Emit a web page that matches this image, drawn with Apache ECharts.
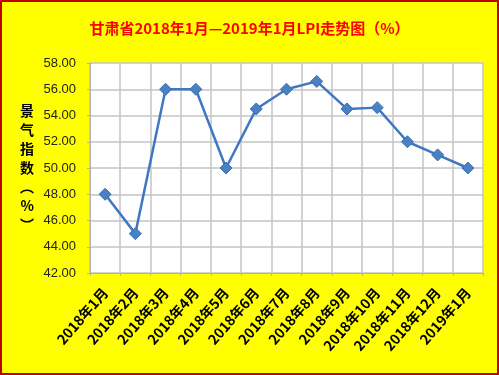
<!DOCTYPE html>
<html><head><meta charset="utf-8">
<script src="https://cdn.jsdelivr.net/npm/echarts@6/dist/echarts.min.js"></script>
<style>html,body{margin:0;padding:0;background:#ffff00}#c{width:499px;height:375px;box-sizing:border-box;border:2px solid #c00000}</style>
</head><body><div id="c"></div>
<script>
var categories = ['2018年1月','2018年2月','2018年3月','2018年4月','2018年5月','2018年6月','2018年7月','2018年8月','2018年9月','2018年10月','2018年11月','2018年12月','2019年1月'];
var lpiValues = [48.0, 45.0, 56.0, 56.0, 50.0, 54.5, 56.0, 56.6, 54.5, 54.6, 52.0, 51.0, 50.0];
var yMin = 42, yMax = 58, yStep = 2;
var chart = echarts.init(document.getElementById('c'), null, {renderer:'canvas'});
chart.setOption({
  backgroundColor: '#ffff00',
  animation: false,
  title: {text: '甘肃省2018年1月—2019年1月LPI走势图（%）', left: 'center', top: 14,
    textStyle: {color: '#ff0000', fontSize: 15, fontWeight: 'bold', fontFamily: 'Noto Sans CJK SC'}},
  grid: {left: 88, right: 14, top: 61, bottom: 100, show: true, backgroundColor: '#ffffff', borderWidth: 0},
  xAxis: {type: 'category', data: categories, boundaryGap: true,
    axisLine: {lineStyle: {color: '#b0b0b0'}},
    axisTick: {show: true, length: 3, lineStyle: {color: '#b0b0b0'}},
    splitLine: {show: true, interval: 0, lineStyle: {color: '#c4c4c4', width: 1.5}},
    axisLabel: {rotate: 49, interval: 0, color: '#000', fontSize: 14, fontWeight: 'bold', fontFamily: 'Noto Sans CJK SC', margin: 17}},
  yAxis: {type: 'value', min: yMin, max: yMax, interval: yStep,
    name: '景\n气\n指\n数\n︵\n%\n︶', nameLocation: 'middle', nameRotate: 0, nameGap: 56,
    nameTextStyle: {color: '#000', fontSize: 14, fontWeight: 'bold', lineHeight: 19, fontFamily: 'Noto Sans CJK SC'},
    axisLine: {show: true, lineStyle: {color: '#b0b0b0'}},
    axisTick: {show: true, length: 3, lineStyle: {color: '#b0b0b0'}},
    splitLine: {show: true, lineStyle: {color: '#c4c4c4', width: 1.5}},
    axisLabel: {color: '#222', fontSize: 13, fontFamily: 'Liberation Sans', formatter: function(v){return v.toFixed(2);}, margin: 14}},
  series: [{type: 'line', data: lpiValues, symbol: 'diamond', symbolSize: 12,
    lineStyle: {color: '#3f78c0', width: 2.5},
    itemStyle: {color: '#4a80c4', borderColor: '#3a6eb0', borderWidth: 1}}]
});
</script></body></html>
